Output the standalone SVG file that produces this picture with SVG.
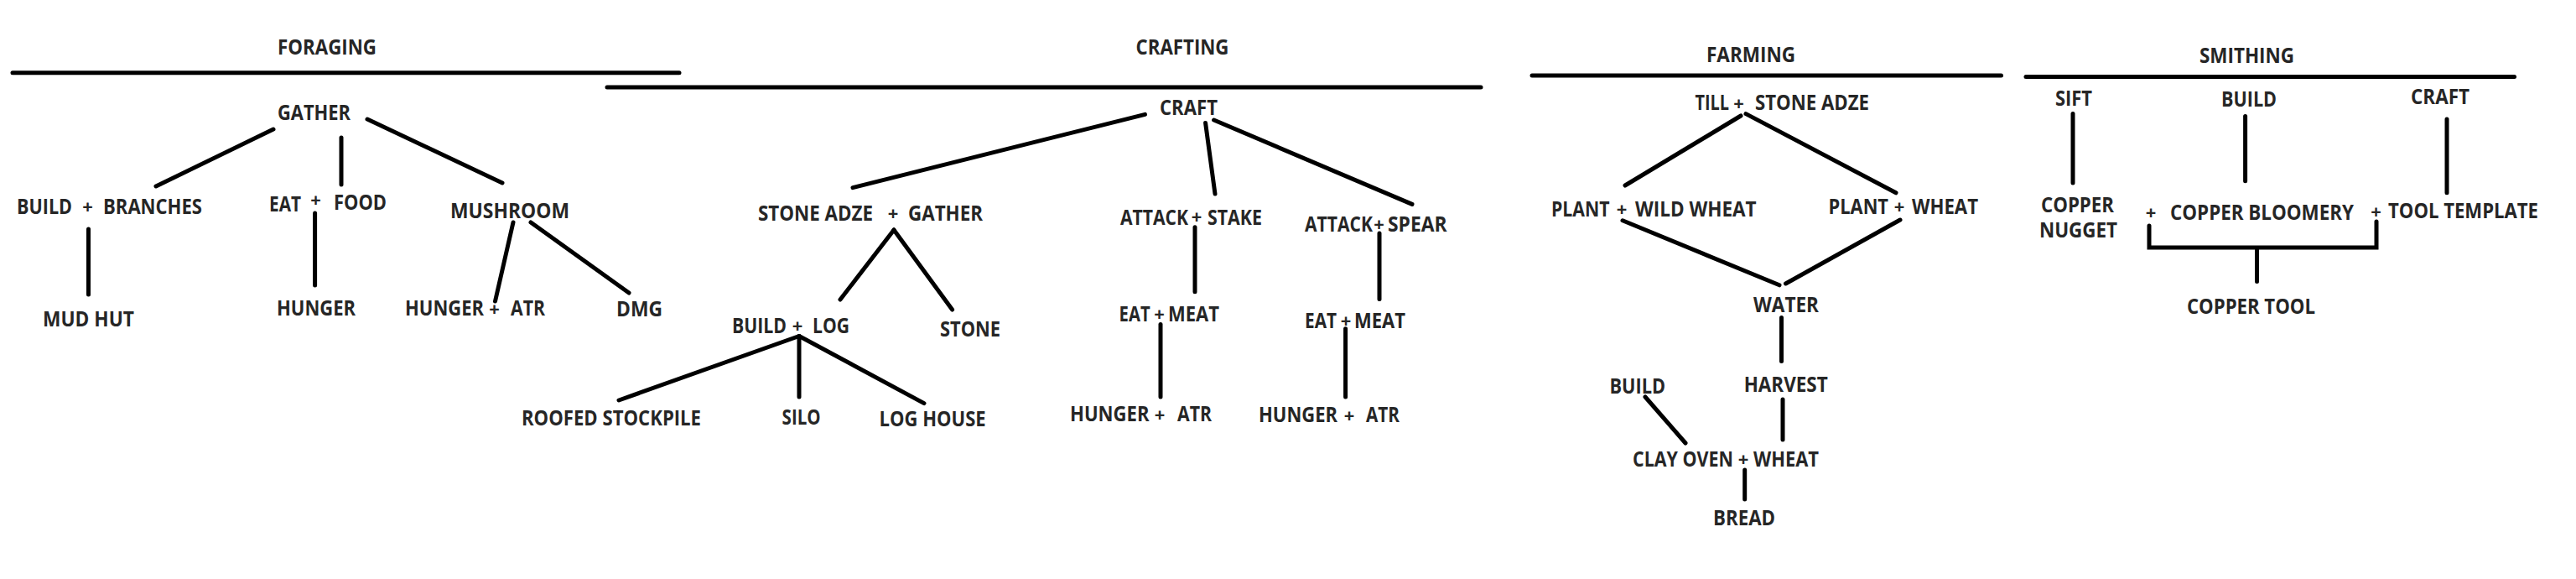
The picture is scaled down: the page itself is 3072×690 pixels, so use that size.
<svg xmlns="http://www.w3.org/2000/svg" width="3072" height="690" viewBox="0 0 3072 690">
<style>
text{font-family:"Open Sans","Liberation Sans",sans-serif;font-weight:bold;font-size:25px;fill:#262626}
.p{text-anchor:middle;font-size:22px}
.rule line,.conn line,.conn polyline{stroke:#000;stroke-width:5;stroke-linecap:round;fill:none}
</style>
<rect width="3072" height="690" fill="#fff"/>
<g id="headings">
<text x="331" y="65" textLength="118" lengthAdjust="spacingAndGlyphs">FORAGING</text>
<text x="1354.5" y="65" textLength="111" lengthAdjust="spacingAndGlyphs">CRAFTING</text>
<text x="2035" y="73.5" textLength="106" lengthAdjust="spacingAndGlyphs">FARMING</text>
<text x="2623" y="75" textLength="113" lengthAdjust="spacingAndGlyphs">SMITHING</text>
</g>
<g class="rule" id="rules">
<line x1="15" y1="86.7" x2="810" y2="86.7"/>
<line x1="724" y1="104" x2="1766" y2="104"/>
<line x1="1827" y1="90" x2="2386.5" y2="90"/>
<line x1="2416" y1="91.5" x2="2998.5" y2="91.5"/>
</g>
<g class="conn" id="connectors">
<line x1="326" y1="154" x2="186" y2="222"/>
<line x1="407" y1="164" x2="407" y2="220"/>
<line x1="438" y1="142" x2="599" y2="218"/>
<line x1="105.5" y1="273" x2="105.5" y2="351"/>
<line x1="375.6" y1="254" x2="375.6" y2="340"/>
<line x1="612" y1="265" x2="590.5" y2="359"/>
<line x1="633" y1="265" x2="750" y2="349"/>
<line x1="1365.5" y1="136.4" x2="1017" y2="223.6"/>
<line x1="1437.6" y1="146.6" x2="1449" y2="231"/>
<line x1="1447.6" y1="143" x2="1684" y2="243.4"/>
<line x1="1066" y1="274" x2="1002" y2="357"/>
<line x1="1066" y1="274" x2="1135.6" y2="369"/>
<line x1="953" y1="400.5" x2="738" y2="477"/>
<line x1="953" y1="400.5" x2="953" y2="473"/>
<line x1="953" y1="400.5" x2="1102" y2="480.6"/>
<line x1="1425" y1="270.7" x2="1425" y2="347.7"/>
<line x1="1384" y1="386.4" x2="1384" y2="473"/>
<line x1="1645" y1="278" x2="1645" y2="356.5"/>
<line x1="1604.6" y1="391.7" x2="1604.6" y2="473"/>
<line x1="2076" y1="138" x2="1938" y2="221"/>
<line x1="2082" y1="135.6" x2="2261" y2="229.8"/>
<line x1="1935" y1="262.8" x2="2122" y2="339.8"/>
<line x1="2266" y1="262" x2="2129.5" y2="338"/>
<line x1="2124.5" y1="378.5" x2="2124.5" y2="430.5"/>
<line x1="1962" y1="473" x2="2010" y2="528"/>
<line x1="2126" y1="476" x2="2126" y2="524"/>
<line x1="2080.7" y1="560" x2="2080.7" y2="595"/>
<line x1="2472" y1="135.6" x2="2472" y2="218"/>
<line x1="2677.6" y1="138.6" x2="2677.6" y2="215.7"/>
<line x1="2918" y1="142" x2="2918" y2="229.8"/>
<polyline points="2563,269 2563,295 2834,295 2834,264"/>
<line x1="2691.5" y1="298" x2="2691.5" y2="335.4"/>
</g>
<g id="f-gather"><text x="331" y="143" textLength="87" lengthAdjust="spacingAndGlyphs">GATHER</text></g>
<g id="f-build-branches"><text x="20" y="255" textLength="66" lengthAdjust="spacingAndGlyphs">BUILD</text><text class="p" x="104.5" y="254">+</text><text x="123" y="255" textLength="118" lengthAdjust="spacingAndGlyphs">BRANCHES</text></g>
<g id="f-eat-food"><text x="321" y="252" textLength="38" lengthAdjust="spacingAndGlyphs">EAT</text><text class="p" x="376.5" y="246">+</text><text x="398" y="250" textLength="63" lengthAdjust="spacingAndGlyphs">FOOD</text></g>
<g id="f-mushroom"><text x="537" y="260" textLength="142" lengthAdjust="spacingAndGlyphs">MUSHROOM</text></g>
<g id="f-mudhut"><text x="51" y="389" textLength="109" lengthAdjust="spacingAndGlyphs">MUD HUT</text></g>
<g id="f-hunger"><text x="330" y="376" textLength="94" lengthAdjust="spacingAndGlyphs">HUNGER</text></g>
<g id="f-hunger-atr"><text x="483" y="376" textLength="94" lengthAdjust="spacingAndGlyphs">HUNGER</text><text class="p" x="589.5" y="376">+</text><text x="609" y="376" textLength="41" lengthAdjust="spacingAndGlyphs">ATR</text></g>
<g id="f-dmg"><text x="735" y="377" textLength="55" lengthAdjust="spacingAndGlyphs">DMG</text></g>
<g id="c-craft"><text x="1383" y="137" textLength="69" lengthAdjust="spacingAndGlyphs">CRAFT</text></g>
<g id="c-adze-gather"><text x="904" y="263" textLength="137" lengthAdjust="spacingAndGlyphs">STONE ADZE</text><text class="p" x="1065" y="262">+</text><text x="1083" y="263" textLength="89" lengthAdjust="spacingAndGlyphs">GATHER</text></g>
<g id="c-build-log"><text x="873" y="397" textLength="65" lengthAdjust="spacingAndGlyphs">BUILD</text><text class="p" x="951" y="396">+</text><text x="969" y="397" textLength="44" lengthAdjust="spacingAndGlyphs">LOG</text></g>
<g id="c-stone"><text x="1121" y="400.5" textLength="72" lengthAdjust="spacingAndGlyphs">STONE</text></g>
<g id="c-roofed"><text x="622" y="507" textLength="214" lengthAdjust="spacingAndGlyphs">ROOFED STOCKPILE</text></g>
<g id="c-silo"><text x="932.6" y="506" textLength="46" lengthAdjust="spacingAndGlyphs">SILO</text></g>
<g id="c-loghouse"><text x="1048.6" y="508" textLength="127" lengthAdjust="spacingAndGlyphs">LOG HOUSE</text></g>
<g id="c-attack-stake"><text x="1336" y="267.6" textLength="81" lengthAdjust="spacingAndGlyphs">ATTACK</text><text class="p" x="1427" y="266">+</text><text x="1440" y="267.6" textLength="65" lengthAdjust="spacingAndGlyphs">STAKE</text></g>
<g id="c-eat-meat-1"><text x="1334.6" y="383" textLength="37" lengthAdjust="spacingAndGlyphs">EAT</text><text class="p" x="1382.5" y="382">+</text><text x="1393" y="383" textLength="61" lengthAdjust="spacingAndGlyphs">MEAT</text></g>
<g id="c-hunger-atr-1"><text x="1276" y="502" textLength="94.5" lengthAdjust="spacingAndGlyphs">HUNGER</text><text class="p" x="1383" y="502">+</text><text x="1404" y="502" textLength="41" lengthAdjust="spacingAndGlyphs">ATR</text></g>
<g id="c-attack-spear"><text x="1556" y="276" textLength="81" lengthAdjust="spacingAndGlyphs">ATTACK</text><text class="p" x="1644.5" y="275">+</text><text x="1655" y="276" textLength="70.5" lengthAdjust="spacingAndGlyphs">SPEAR</text></g>
<g id="c-eat-meat-2"><text x="1556" y="391" textLength="38" lengthAdjust="spacingAndGlyphs">EAT</text><text class="p" x="1605" y="390">+</text><text x="1615" y="391" textLength="61" lengthAdjust="spacingAndGlyphs">MEAT</text></g>
<g id="c-hunger-atr-2"><text x="1501" y="503" textLength="94" lengthAdjust="spacingAndGlyphs">HUNGER</text><text class="p" x="1609" y="503">+</text><text x="1629" y="503" textLength="40" lengthAdjust="spacingAndGlyphs">ATR</text></g>
<g id="m-till"><text x="2021.5" y="131" textLength="40.5" lengthAdjust="spacingAndGlyphs">TILL</text><text class="p" x="2073.5" y="131">+</text><text x="2093" y="131" textLength="136" lengthAdjust="spacingAndGlyphs">STONE ADZE</text></g>
<g id="m-plant-wild"><text x="1850" y="258" textLength="69.5" lengthAdjust="spacingAndGlyphs">PLANT</text><text class="p" x="1934" y="257">+</text><text x="1950" y="258" textLength="144.6" lengthAdjust="spacingAndGlyphs">WILD WHEAT</text></g>
<g id="m-plant-wheat"><text x="2180.6" y="254.6" textLength="71.4" lengthAdjust="spacingAndGlyphs">PLANT</text><text class="p" x="2265" y="253.6">+</text><text x="2280" y="254.6" textLength="79" lengthAdjust="spacingAndGlyphs">WHEAT</text></g>
<g id="m-water"><text x="2091" y="372" textLength="78" lengthAdjust="spacingAndGlyphs">WATER</text></g>
<g id="m-harvest"><text x="2079.7" y="467" textLength="100" lengthAdjust="spacingAndGlyphs">HARVEST</text></g>
<g id="m-build"><text x="1919.5" y="469" textLength="66.5" lengthAdjust="spacingAndGlyphs">BUILD</text></g>
<g id="m-clayoven"><text x="1947" y="555.5" textLength="120" lengthAdjust="spacingAndGlyphs">CLAY OVEN</text><text class="p" x="2079" y="554.5">+</text><text x="2091" y="555.5" textLength="78" lengthAdjust="spacingAndGlyphs">WHEAT</text></g>
<g id="m-bread"><text x="2043" y="626" textLength="74" lengthAdjust="spacingAndGlyphs">BREAD</text></g>
<g id="s-sift"><text x="2451" y="125.5" textLength="44" lengthAdjust="spacingAndGlyphs">SIFT</text></g>
<g id="s-build"><text x="2649" y="127" textLength="66" lengthAdjust="spacingAndGlyphs">BUILD</text></g>
<g id="s-craft"><text x="2875" y="124" textLength="70" lengthAdjust="spacingAndGlyphs">CRAFT</text></g>
<g id="s-nugget"><text x="2434" y="253" textLength="87" lengthAdjust="spacingAndGlyphs">COPPER</text><text x="2432" y="282.6" textLength="93" lengthAdjust="spacingAndGlyphs">NUGGET</text></g>
<g id="s-bloomery"><text class="p" x="2565" y="261">+</text><text x="2588" y="262" textLength="219" lengthAdjust="spacingAndGlyphs">COPPER BLOOMERY</text></g>
<g id="s-template"><text class="p" x="2833.5" y="260">+</text><text x="2848" y="260" textLength="179" lengthAdjust="spacingAndGlyphs">TOOL TEMPLATE</text></g>
<g id="s-coppertool"><text x="2608" y="374" textLength="153" lengthAdjust="spacingAndGlyphs">COPPER TOOL</text></g>
</svg>
